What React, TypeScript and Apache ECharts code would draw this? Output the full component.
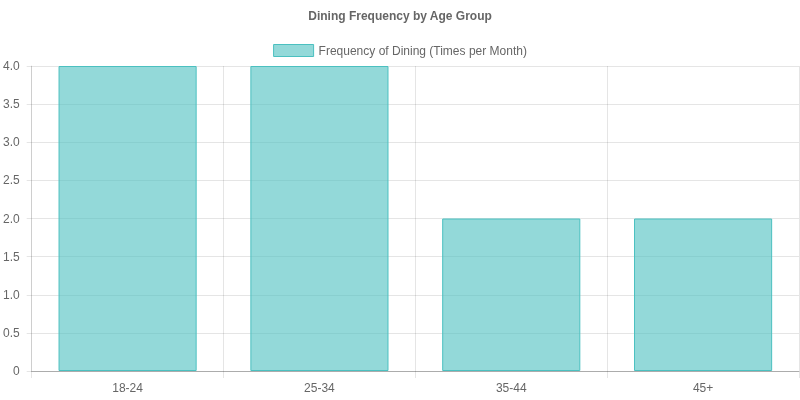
import React, { useEffect, useRef } from "react";
import * as echarts from "echarts";

const categories = ["18-24", "25-34", "35-44", "45+"];
const frequency = [4, 4, 2, 2];
const seriesName = "Frequency of Dining (Times per Month)";
const chartTitle = "Dining Frequency by Age Group";

export default function App() {
  const ref = useRef<HTMLDivElement>(null);
  useEffect(() => {
    if (!ref.current) return;
    const chart = echarts.init(ref.current, undefined, { renderer: "svg" });
    const font = "'Liberation Sans', Arial, Helvetica, sans-serif";
    const gridColor = "rgba(0,0,0,0.1)";
    chart.setOption({
      animation: false,
      textStyle: { fontFamily: font },
      title: {
        text: chartTitle,
        left: "center",
        top: 10,
        padding: 0,
        textStyle: { fontSize: 12, fontWeight: "bold", color: "#666", fontFamily: font },
      },
      legend: {
        top: 44,
        left: "center",
        padding: 0,
        icon: "rect",
        itemWidth: 40,
        itemHeight: 12,
        itemGap: 10,
        itemStyle: { borderWidth: 1 },
        textStyle: { fontSize: 12, color: "#666", fontFamily: font },
        data: [seriesName],
      },
      grid: { left: 31, right: 1, top: 66, bottom: 29, containLabel: false },
      xAxis: {
        type: "category",
        data: categories,
        boundaryGap: true,
        axisLine: { show: true, lineStyle: { color: "rgba(0,0,0,0.25)", width: 1 } },
        axisTick: { show: true, length: 7, alignWithLabel: false, lineStyle: { color: gridColor } },
        axisLabel: { fontSize: 12, color: "#666", margin: 11, fontFamily: font },
        splitLine: { show: true, lineStyle: { color: gridColor, width: 1 } },
      },
      yAxis: {
        type: "value",
        min: 0,
        max: 4,
        interval: 0.5,
        axisLine: { show: true, lineStyle: { color: gridColor } },
        axisTick: { show: true, length: 5, lineStyle: { color: gridColor } },
        axisLabel: {
          fontSize: 12,
          color: "#666",
          margin: 12,
          fontFamily: font,
          formatter: (v: number) => (v === 0 ? "0" : v.toFixed(1)),
        },
        splitLine: { show: true, lineStyle: { color: gridColor, width: 1 } },
      },
      series: [
        {
          name: seriesName,
          type: "bar",
          data: frequency,
          barWidth: "72%",
          itemStyle: {
            color: "rgba(75,192,192,0.6)",
            borderColor: "rgba(75,192,192,1)",
            borderWidth: 1,
          },
        },
      ],
    });
    return () => chart.dispose();
  }, []);
  return (
    <div
      ref={ref}
      style={{ position: "fixed", left: 0, top: 0, width: 800, height: 400 }}
    />
  );
}
